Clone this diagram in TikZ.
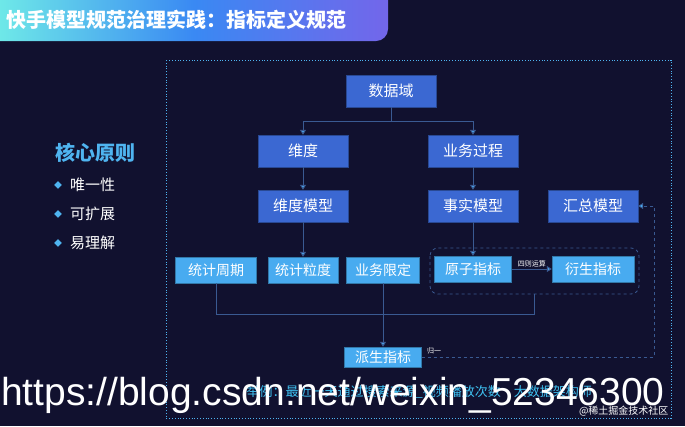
\documentclass[tikz,border=0pt]{standalone}
\usepackage{fontspec}
\setmainfont{Noto Sans CJK SC}
\newfontfamily\urlfont{Liberation Sans}
\usetikzlibrary{arrows.meta,positioning}
\definecolor{bg}{HTML}{11112F}
\definecolor{dk}{HTML}{3B68D2}
\definecolor{lt}{HTML}{48ABF0}
\definecolor{ln}{HTML}{3A5A92}
\definecolor{ttl}{HTML}{4FB4F0}
\definecolor{gl}{HTML}{6EE8E8}
\definecolor{gr}{HTML}{7366EA}
\tikzset{
  dkbox/.style={fill=dk,draw=dk!70!black,minimum width=90pt,minimum height=32pt,text=white,font=\fontsize{15}{17}\selectfont,inner sep=0pt},
  ltbox/.style={fill=lt,draw=lt!70!black,minimum height=26pt,text=white,font=\fontsize{14}{16}\selectfont,inner sep=0pt},
  conn/.style={draw=ln,line width=1pt},
  arr/.style={conn,-{Triangle[length=5pt,width=6pt,fill=lt]}},
  small/.style={text=white!85,font=\fontsize{7}{8}\selectfont,inner sep=1pt},
}
\begin{document}
\begin{tikzpicture}[x=1pt,y=-1pt]
\fill[bg] (0,0) rectangle (685,426);
\useasboundingbox (0,0) rectangle (685,426);
% title
\shade[left color=gl,right color=gr,middle color=lt!80!blue]
  (0,0) -- (388,0) -- (388,29) to[out=-90,in=0] (376,41) -- (0,41) -- cycle;
\node[anchor=west,text=white,font=\fontsize{20}{22}\selectfont\bfseries,inner sep=0pt] (title) at (6,20) {快手模型规范治理实践：指标定义规范};
% frame
\draw[ttl,dotted,line width=0.8pt] (166,60) rectangle (671,418);
% left
\node[text=ttl,font=\fontsize{20}{22}\selectfont\bfseries,inner sep=0pt] (hx) at (95,153) {核心原则};
\foreach \y/\t [count=\i] in {185/唯一性,214/可扩展,243/易理解}{
  \node[text=ttl,font=\fontsize{8}{9}\selectfont] (b\i) at (58,\y) {◆};
  \node[anchor=west,text=white,font=\fontsize{15}{17}\selectfont,inner sep=0pt] (l\i) at (70,\y) {\t};
}
% boxes
\node[dkbox] (sjy) at (391,91) {数据域};
\node[dkbox] (wd) at (303,151) {维度};
\node[dkbox] (ywgc) at (473,151) {业务过程};
\node[dkbox] (wdmx) at (303,206) {维度模型};
\node[dkbox] (ssmx) at (473,206) {事实模型};
\node[dkbox] (hzmx) at (593,206) {汇总模型};
\node[ltbox,minimum width=81pt] (tjzq) at (216,270) {统计周期};
\node[ltbox,minimum width=70pt] (tjld) at (303,270) {统计粒度};
\node[ltbox,minimum width=73pt] (ywxd) at (383,270) {业务限定};
\node[ltbox,minimum width=77pt] (yzzb) at (473,269) {原子指标};
\node[ltbox,minimum width=82pt] (ysz) at (593,269) {衍生指标};
\node[ltbox,minimum width=77pt,minimum height=20pt] (pszb) at (383,357) {派生指标};
\draw[ln,dashed,line width=0.8pt,rounded corners=8pt] (430,248) rectangle (639,294);
\coordinate (gb) at (534,294);
% connectors
\draw[conn] (sjy.south) -- (391,121);
\draw[arr] (391,121) -| (wd.north);
\draw[arr] (391,121) -| (ywgc.north);
\draw[arr] (wd) -- (wdmx);
\draw[arr] (ywgc) -- (ssmx);
\draw[arr] (wdmx) -- (tjld);
\draw[arr] (ssmx) -- (yzzb);
\draw[arr] (yzzb) -- node[small,above] (szys) {四则运算} (ysz);
\draw[conn] (tjzq.south) |- (534,314) -- (gb);
\draw[arr] (ywxd) -- (pszb);
\coordinate (c1) at (654,357);
\coordinate (c2) at (654,206);
\draw[ln,dashed,line width=0.8pt,-{Triangle[length=5pt,width=6pt,fill=lt]}] (pszb.east) -- (c1) -- (c2) -- (hzmx.east);
\node[small,anchor=west] (gy) at (426,351) {归一};
% bottom texts
\node[anchor=west,text=ttl!80!cyan,font=\fontsize{13}{15}\selectfont] (ex) at (243,392) {举例：最近一天通过搜索来源\_视频播放次数\quad 大数据架构师};
\node[anchor=east,text=white!55,font=\fontsize{10}{12}\selectfont] (wm1) at (672,411) {@稀土掘金技术社区};
\node[anchor=west,text=white,font=\urlfont\fontsize{39}{41}\selectfont,inner sep=0pt] (url) at (1,395) {https://blog.csdn.net/weixin\_52346300};
\end{tikzpicture}
\end{document}
